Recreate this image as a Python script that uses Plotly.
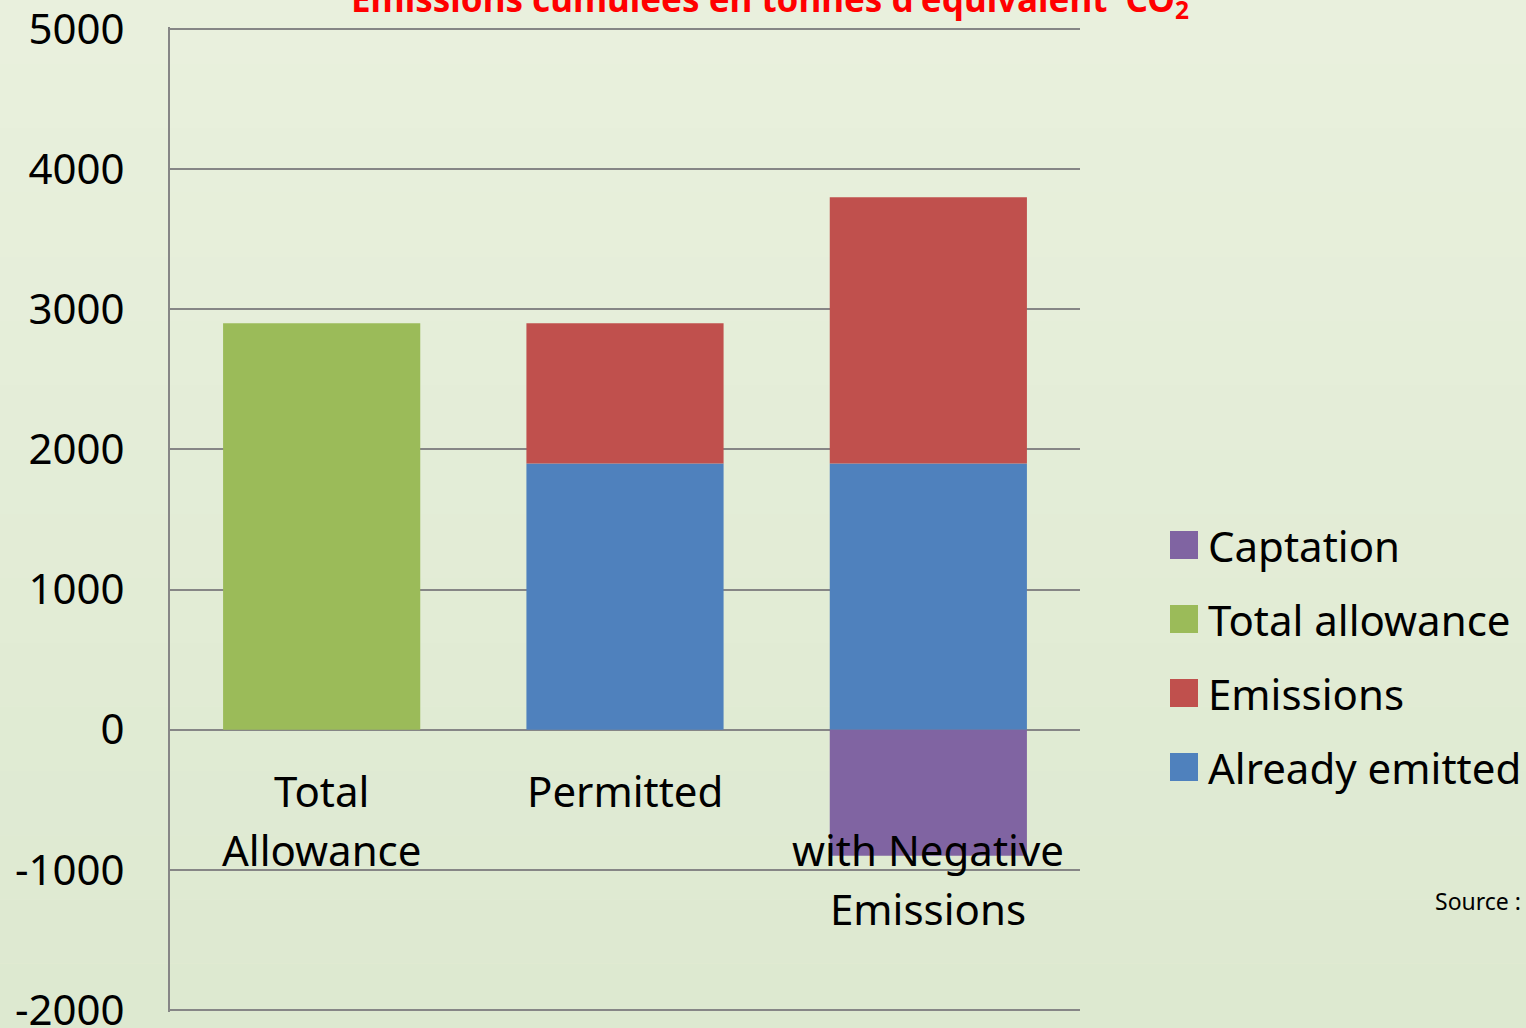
import plotly.graph_objects as go

categories = ["Total Allowance", "Permitted", "Permitted with Negative Emissions"]
category_lines = [["Total", "Allowance"], ["Permitted"], ["", "with Negative", "Emissions"]]

series_names = ["Already emitted", "Emissions", "Total allowance", "Captation"]
already_emitted = [None, 1900, 1900]
emissions = [None, 1000, 1900]
total_allowance = [2900, None, None]
captation = [None, None, -900]
series_values = [already_emitted, emissions, total_allowance, captation]
series_colors = ["#4F81BD", "#C0504D", "#9BBB59", "#8064A2"]

y_ticks = [-2000, -1000, 0, 1000, 2000, 3000, 4000, 5000]
y_tick_labels = ["-2000", "-1000", "0", "1000", "2000", "3000", "4000", "5000"]
title_text = "Emissions cumulées en tonnes d'équivalent  CO<sub>2</sub>"
source_text = "Source :"

FONT = "Noto Sans"
GRID = "#868686"
W, H = 1526, 1028
L, R, T, B = 170, 446, 27, 16
PW, PH = W - L - R, H - T - B

fig = go.Figure()
for name, vals, col in zip(series_names, series_values, series_colors):
    fig.add_trace(go.Bar(x=categories, y=vals, name=name, marker_color=col,
                         marker_line_width=0, showlegend=False))

# background gradient bands (paper coordinates)
shapes = []
nb = 16
top_c, bot_c = (233, 240, 221), (221, 233, 208)
for i in range(nb):
    f = i / (nb - 1)
    c = tuple(round(top_c[k] + (bot_c[k] - top_c[k]) * f) for k in range(3))
    y_top_px = H * i / nb
    y_bot_px = H * (i + 1) / nb
    shapes.append(dict(type="rect", xref="paper", yref="paper", layer="below",
                       x0=-L / PW, x1=(W - L) / PW,
                       y0=1 - (y_bot_px - T) / PH, y1=1 - (y_top_px - T) / PH,
                       fillcolor="rgb(%d,%d,%d)" % c, line_width=0))

annotations = []
for cat, lines in zip(categories, category_lines):
    for i, line in enumerate(lines):
        if not line:
            continue
        annotations.append(dict(x=cat, y=0, xref="x", yref="y", text=line,
                                showarrow=False, yanchor="middle",
                                yshift=-61 - 59 * i,
                                font=dict(family=FONT, size=42, color="black")))

legend_order = list(reversed(range(len(series_names))))
for row, idx in enumerate(legend_order):
    yc = 1 - (545 - T + 74 * row) / PH
    shapes.append(dict(type="rect", xref="paper", yref="paper",
                       x0=(1170 - L) / PW, x1=(1198 - L) / PW,
                       y0=yc - 14 / PH, y1=yc + 14 / PH,
                       fillcolor=series_colors[idx], line_width=0))
    annotations.append(dict(x=(1206 - L) / PW, y=yc, xref="paper", yref="paper",
                            text=series_names[idx], showarrow=False,
                            xanchor="left", yanchor="middle",
                            font=dict(family=FONT, size=42, color="black")))

annotations.append(dict(x=(1523 - L) / PW, y=1 - (901 - T) / PH,
                        xref="paper", yref="paper", text=source_text,
                        showarrow=False, xanchor="right", yanchor="middle",
                        font=dict(family=FONT, size=23, color="black")))

annotations.append(dict(x=(770 - L) / PW, y=1, xref="paper", yref="paper",
                        text="<b>" + title_text + "</b>", showarrow=False,
                        xanchor="center", yanchor="middle", yshift=27,
                        font=dict(family=FONT, size=35, color="#FF0000")))

fig.update_layout(
    width=W, height=H,
    margin=dict(l=L, r=R, t=T, b=B, pad=0, autoexpand=False),
    paper_bgcolor="rgb(229,237,216)", plot_bgcolor="rgba(0,0,0,0)",
    barmode="relative", bargap=0.35,
    annotations=annotations, shapes=shapes,
    font=dict(family=FONT, color="black"),
)
fig.update_xaxes(showticklabels=False, showgrid=False, zeroline=False,
                 showline=False, ticks="", automargin=False)
fig.update_yaxes(range=[-2014, 5014], tickvals=y_ticks, ticktext=y_tick_labels,
                 tickfont=dict(family=FONT, size=42, color="black"),
                 showgrid=True, gridcolor=GRID, gridwidth=2,
                 zeroline=True, zerolinecolor=GRID, zerolinewidth=2,
                 showline=True, linecolor=GRID, linewidth=2,
                 ticks="", ticklabelstandoff=35, automargin=False,
                 ticklabeloverflow="allow")

fig.write_html("out.html", config={"displayModeBar": False},
               post_script="document.body.style.margin='0';document.body.style.overflow='hidden';")
